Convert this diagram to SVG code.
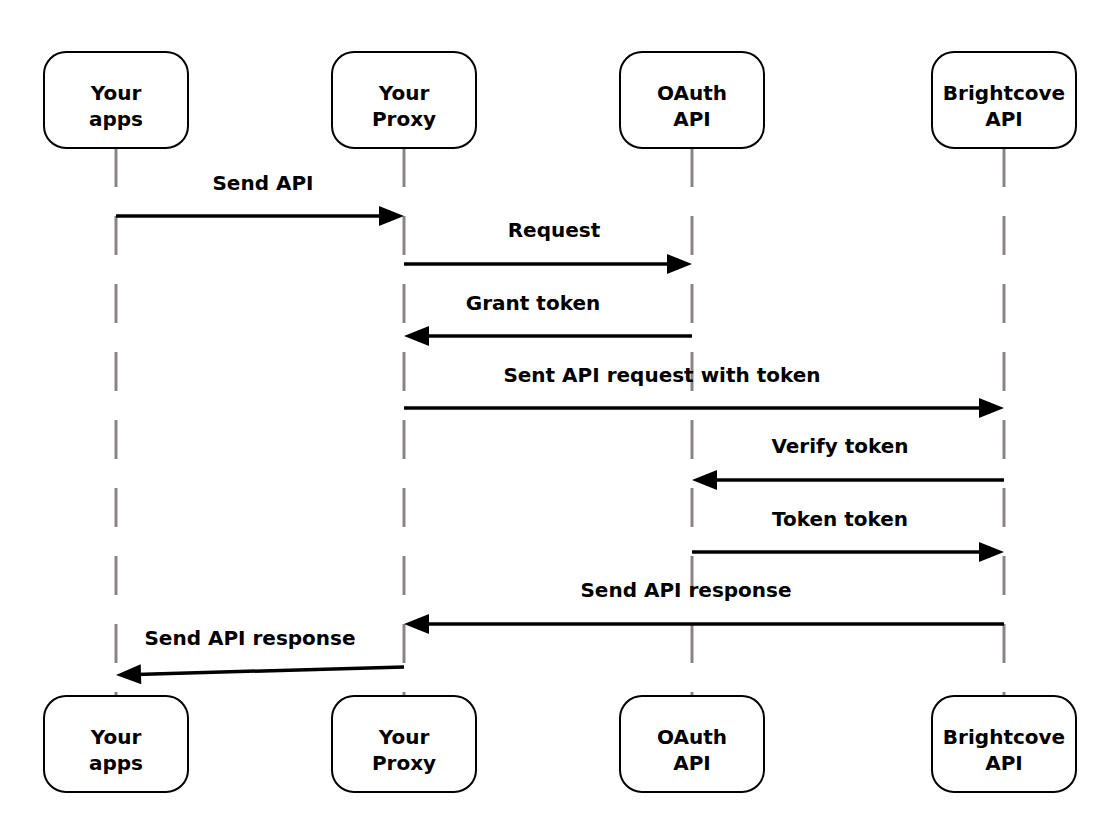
<svg xmlns="http://www.w3.org/2000/svg" width="1120" height="840" viewBox="0 0 1120 840">
  <style>
    .box { fill: #ffffff; stroke: #000000; stroke-width: 2; }
    .life { stroke: #8a8484; stroke-width: 3; stroke-dasharray: 39 29; fill: none; }
    .msg { stroke: #000000; stroke-width: 3.5; fill: none; marker-end: url(#head); }
    text { font-family: "DejaVu Sans", "Liberation Sans", sans-serif; font-weight: bold; font-size: 20px; fill: #000000; text-anchor: middle; }
  </style>
  <defs>
    <marker id="head" markerUnits="userSpaceOnUse" markerWidth="26" markerHeight="20" refX="5" refY="10" orient="auto" viewBox="0 0 25 20">
      <path d="M0,0 L25,10 L0,20 z" fill="#000000"/>
    </marker>
  </defs>
  <rect width="1120" height="840" fill="#ffffff"/>

  <g id="lifelines">
    <line class="life" x1="116" y1="148" x2="116" y2="696"/>
    <line class="life" x1="404" y1="148" x2="404" y2="696"/>
    <line class="life" x1="692" y1="148" x2="692" y2="696"/>
    <line class="life" x1="1004" y1="148" x2="1004" y2="696"/>
  </g>

  <g id="node-apps-top">
    <rect class="box" x="44" y="52" width="144" height="96" rx="22"/>
    <text x="116" y="100">Your</text>
    <text x="116" y="126">apps</text>
  </g>
  <g id="node-proxy-top">
    <rect class="box" x="332" y="52" width="144" height="96" rx="22"/>
    <text x="404" y="100">Your</text>
    <text x="404" y="126">Proxy</text>
  </g>
  <g id="node-oauth-top">
    <rect class="box" x="620" y="52" width="144" height="96" rx="22"/>
    <text x="692" y="100">OAuth</text>
    <text x="692" y="126">API</text>
  </g>
  <g id="node-brightcove-top">
    <rect class="box" x="932" y="52" width="144" height="96" rx="22"/>
    <text x="1004" y="100">Brightcove</text>
    <text x="1004" y="126">API</text>
  </g>

  <g id="node-apps-bottom">
    <rect class="box" x="44" y="696" width="144" height="96" rx="22"/>
    <text x="116" y="744">Your</text>
    <text x="116" y="770">apps</text>
  </g>
  <g id="node-proxy-bottom">
    <rect class="box" x="332" y="696" width="144" height="96" rx="22"/>
    <text x="404" y="744">Your</text>
    <text x="404" y="770">Proxy</text>
  </g>
  <g id="node-oauth-bottom">
    <rect class="box" x="620" y="696" width="144" height="96" rx="22"/>
    <text x="692" y="744">OAuth</text>
    <text x="692" y="770">API</text>
  </g>
  <g id="node-brightcove-bottom">
    <rect class="box" x="932" y="696" width="144" height="96" rx="22"/>
    <text x="1004" y="744">Brightcove</text>
    <text x="1004" y="770">API</text>
  </g>

  <g id="connectors">
    <line class="msg" x1="116" y1="216" x2="384" y2="216"/>
    <line class="msg" x1="404" y1="264" x2="672" y2="264"/>
    <line class="msg" x1="692" y1="336" x2="424" y2="336"/>
    <line class="msg" x1="404" y1="408" x2="984" y2="408"/>
    <line class="msg" x1="1004" y1="480" x2="712" y2="480"/>
    <line class="msg" x1="692" y1="552" x2="984" y2="552"/>
    <line class="msg" x1="1004" y1="624" x2="424" y2="624"/>
    <line class="msg" x1="404" y1="667" x2="136" y2="674.4"/>
  </g>

  <g id="labels">
    <text x="263" y="190">Send API</text>
    <text x="554" y="237">Request</text>
    <text x="533" y="310">Grant token</text>
    <text x="662" y="382">Sent API request with token</text>
    <text x="840" y="453">Verify token</text>
    <text x="840" y="526">Token token</text>
    <text x="686" y="597">Send API response</text>
    <text x="250" y="645">Send API response</text>
  </g>
</svg>
